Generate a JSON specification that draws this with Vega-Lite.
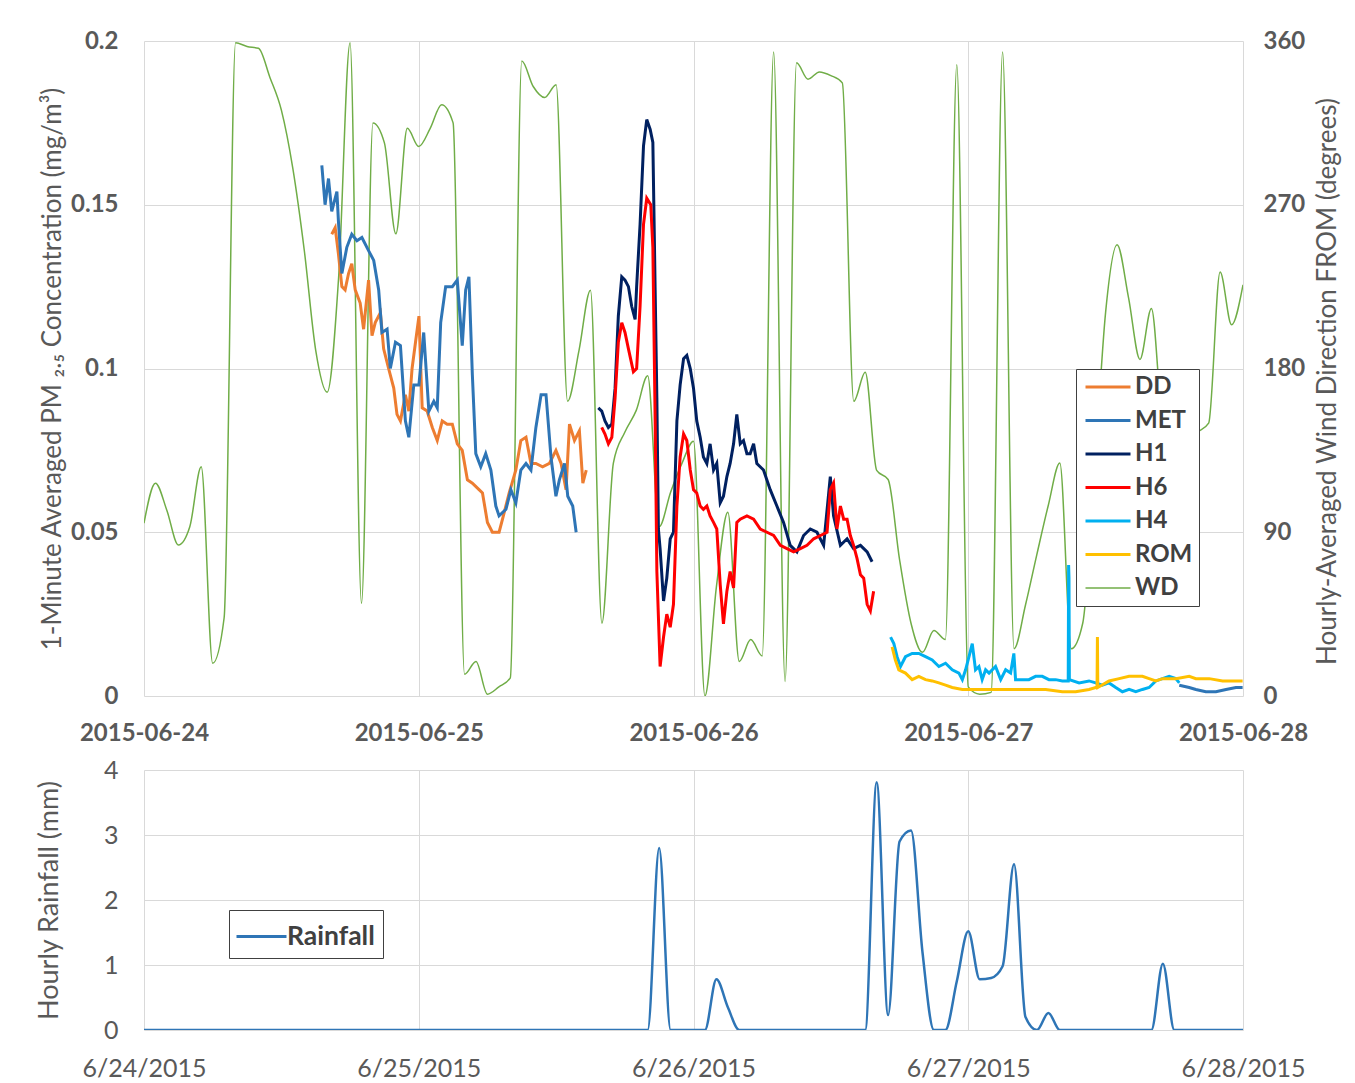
{
  "$schema": "https://vega.github.io/schema/vega-lite/v6.json",
  "background": "white",
  "padding": {"left": 35, "top": 29, "right": 5, "bottom": 5},
  "config": {"view": {"stroke": null}, "font": "Lato"},
  "spacing": 13,
  "resolve": {"scale": {"color": "independent"}, "legend": {"color": "independent"}},
  "datasets": {
    "wd": [
      {"s":"WD","t":"2015-06-24T00:00","d":95},{"s":"WD","t":"2015-06-24T01:00","d":117},{"s":"WD","t":"2015-06-24T02:00","d":102},{"s":"WD","t":"2015-06-24T03:00","d":83},
      {"s":"WD","t":"2015-06-24T04:00","d":93},{"s":"WD","t":"2015-06-24T05:00","d":126},{"s":"WD","t":"2015-06-24T06:00","d":18},{"s":"WD","t":"2015-06-24T07:00","d":43},
      {"s":"WD","t":"2015-06-24T08:00","d":359},{"s":"WD","t":"2015-06-24T09:00","d":357},{"s":"WD","t":"2015-06-24T10:00","d":356},{"s":"WD","t":"2015-06-24T11:00","d":340},
      {"s":"WD","t":"2015-06-24T12:00","d":322},{"s":"WD","t":"2015-06-24T13:00","d":290},{"s":"WD","t":"2015-06-24T14:00","d":245},{"s":"WD","t":"2015-06-24T15:00","d":190},
      {"s":"WD","t":"2015-06-24T16:00","d":167},{"s":"WD","t":"2015-06-24T17:00","d":230},{"s":"WD","t":"2015-06-24T18:00","d":359},{"s":"WD","t":"2015-06-24T19:00","d":51},
      {"s":"WD","t":"2015-06-24T20:00","d":315},{"s":"WD","t":"2015-06-24T21:00","d":304},{"s":"WD","t":"2015-06-24T22:00","d":254},{"s":"WD","t":"2015-06-24T23:00","d":312},
      {"s":"WD","t":"2015-06-25T00:00","d":302},{"s":"WD","t":"2015-06-25T01:00","d":312},{"s":"WD","t":"2015-06-25T02:00","d":325},{"s":"WD","t":"2015-06-25T03:00","d":315},
      {"s":"WD","t":"2015-06-25T04:00","d":12},{"s":"WD","t":"2015-06-25T05:00","d":19},{"s":"WD","t":"2015-06-25T06:00","d":1},{"s":"WD","t":"2015-06-25T07:00","d":5},
      {"s":"WD","t":"2015-06-25T08:00","d":10},{"s":"WD","t":"2015-06-25T09:00","d":349},{"s":"WD","t":"2015-06-25T10:00","d":335},{"s":"WD","t":"2015-06-25T11:00","d":329},
      {"s":"WD","t":"2015-06-25T12:00","d":336},{"s":"WD","t":"2015-06-25T13:00","d":162},{"s":"WD","t":"2015-06-25T14:00","d":190},{"s":"WD","t":"2015-06-25T15:00","d":223},
      {"s":"WD","t":"2015-06-25T16:00","d":40},{"s":"WD","t":"2015-06-25T17:00","d":128},{"s":"WD","t":"2015-06-25T18:00","d":145},{"s":"WD","t":"2015-06-25T19:00","d":157},
      {"s":"WD","t":"2015-06-25T20:00","d":176},{"s":"WD","t":"2015-06-25T21:00","d":93},{"s":"WD","t":"2015-06-25T22:00","d":112},{"s":"WD","t":"2015-06-25T23:00","d":128},
      {"s":"WD","t":"2015-06-26T00:00","d":140},{"s":"WD","t":"2015-06-26T01:00","d":0},{"s":"WD","t":"2015-06-26T02:00","d":60},{"s":"WD","t":"2015-06-26T03:00","d":101},
      {"s":"WD","t":"2015-06-26T04:00","d":19},{"s":"WD","t":"2015-06-26T05:00","d":31},{"s":"WD","t":"2015-06-26T06:00","d":22},{"s":"WD","t":"2015-06-26T07:00","d":354},
      {"s":"WD","t":"2015-06-26T08:00","d":8},{"s":"WD","t":"2015-06-26T09:00","d":348},{"s":"WD","t":"2015-06-26T10:00","d":339},{"s":"WD","t":"2015-06-26T11:00","d":343},
      {"s":"WD","t":"2015-06-26T12:00","d":341},{"s":"WD","t":"2015-06-26T13:00","d":337},{"s":"WD","t":"2015-06-26T14:00","d":162},{"s":"WD","t":"2015-06-26T15:00","d":178},
      {"s":"WD","t":"2015-06-26T16:00","d":124},{"s":"WD","t":"2015-06-26T17:00","d":119},{"s":"WD","t":"2015-06-26T18:00","d":75},{"s":"WD","t":"2015-06-26T19:00","d":40},
      {"s":"WD","t":"2015-06-26T20:00","d":24},{"s":"WD","t":"2015-06-26T21:00","d":36},{"s":"WD","t":"2015-06-26T22:00","d":31},{"s":"WD","t":"2015-06-26T23:00","d":347},
      {"s":"WD","t":"2015-06-27T00:00","d":5},{"s":"WD","t":"2015-06-27T01:00","d":1},{"s":"WD","t":"2015-06-27T02:00","d":2},{"s":"WD","t":"2015-06-27T03:00","d":354},
      {"s":"WD","t":"2015-06-27T04:00","d":26},{"s":"WD","t":"2015-06-27T05:00","d":50},{"s":"WD","t":"2015-06-27T06:00","d":78},{"s":"WD","t":"2015-06-27T07:00","d":105},
      {"s":"WD","t":"2015-06-27T08:00","d":128},{"s":"WD","t":"2015-06-27T09:00","d":26},{"s":"WD","t":"2015-06-27T10:00","d":40},{"s":"WD","t":"2015-06-27T11:00","d":120},
      {"s":"WD","t":"2015-06-27T12:00","d":211},{"s":"WD","t":"2015-06-27T13:00","d":248},{"s":"WD","t":"2015-06-27T14:00","d":219},{"s":"WD","t":"2015-06-27T15:00","d":185},
      {"s":"WD","t":"2015-06-27T16:00","d":213},{"s":"WD","t":"2015-06-27T17:00","d":150},{"s":"WD","t":"2015-06-27T18:00","d":140},{"s":"WD","t":"2015-06-27T19:00","d":140},
      {"s":"WD","t":"2015-06-27T20:00","d":145},{"s":"WD","t":"2015-06-27T21:00","d":150},{"s":"WD","t":"2015-06-27T22:00","d":233},{"s":"WD","t":"2015-06-27T23:00","d":204},
      {"s":"WD","t":"2015-06-28T00:00","d":226}
    ],
    "pm": [
      {"s":"DD","t":"2015-06-24T16:24","v":0.141},{"s":"DD","t":"2015-06-24T16:42","v":0.143},{"s":"DD","t":"2015-06-24T16:59","v":0.135},{"s":"DD","t":"2015-06-24T17:17","v":0.125},
      {"s":"DD","t":"2015-06-24T17:34","v":0.124},{"s":"DD","t":"2015-06-24T17:52","v":0.129},{"s":"DD","t":"2015-06-24T18:09","v":0.132},{"s":"DD","t":"2015-06-24T18:27","v":0.124},
      {"s":"DD","t":"2015-06-24T18:53","v":0.120},{"s":"DD","t":"2015-06-24T19:11","v":0.112},{"s":"DD","t":"2015-06-24T19:37","v":0.127},{"s":"DD","t":"2015-06-24T19:55","v":0.110},
      {"s":"DD","t":"2015-06-24T20:12","v":0.114},{"s":"DD","t":"2015-06-24T20:39","v":0.117},{"s":"DD","t":"2015-06-24T20:56","v":0.106},{"s":"DD","t":"2015-06-24T21:22","v":0.100},
      {"s":"DD","t":"2015-06-24T21:49","v":0.094},{"s":"DD","t":"2015-06-24T22:06","v":0.086},{"s":"DD","t":"2015-06-24T22:24","v":0.084},{"s":"DD","t":"2015-06-24T22:50","v":0.092},
      {"s":"DD","t":"2015-06-24T23:08","v":0.087},{"s":"DD","t":"2015-06-24T23:25","v":0.100},{"s":"DD","t":"2015-06-24T23:43","v":0.108},{"s":"DD","t":"2015-06-25T00:01","v":0.116},
      {"s":"DD","t":"2015-06-25T00:18","v":0.088},{"s":"DD","t":"2015-06-25T00:44","v":0.087},{"s":"DD","t":"2015-06-25T01:11","v":0.082},{"s":"DD","t":"2015-06-25T01:37","v":0.078},
      {"s":"DD","t":"2015-06-25T02:03","v":0.084},{"s":"DD","t":"2015-06-25T02:29","v":0.083},{"s":"DD","t":"2015-06-25T02:56","v":0.083},{"s":"DD","t":"2015-06-25T03:22","v":0.077},
      {"s":"DD","t":"2015-06-25T03:48","v":0.075},{"s":"DD","t":"2015-06-25T04:15","v":0.066},{"s":"DD","t":"2015-06-25T04:41","v":0.065},{"s":"DD","t":"2015-06-25T05:16","v":0.063},
      {"s":"DD","t":"2015-06-25T05:34","v":0.062},{"s":"DD","t":"2015-06-25T06:00","v":0.053},{"s":"DD","t":"2015-06-25T06:26","v":0.050},{"s":"DD","t":"2015-06-25T07:01","v":0.050},
      {"s":"DD","t":"2015-06-25T07:19","v":0.054},{"s":"DD","t":"2015-06-25T07:54","v":0.062},{"s":"DD","t":"2015-06-25T08:29","v":0.069},{"s":"DD","t":"2015-06-25T08:55","v":0.078},
      {"s":"DD","t":"2015-06-25T09:22","v":0.079},{"s":"DD","t":"2015-06-25T09:48","v":0.071},{"s":"DD","t":"2015-06-25T10:14","v":0.071},{"s":"DD","t":"2015-06-25T10:49","v":0.070},
      {"s":"DD","t":"2015-06-25T11:25","v":0.071},{"s":"DD","t":"2015-06-25T11:59","v":0.075},{"s":"DD","t":"2015-06-25T12:26","v":0.071},{"s":"DD","t":"2015-06-25T12:52","v":0.063},
      {"s":"DD","t":"2015-06-25T13:10","v":0.083},{"s":"DD","t":"2015-06-25T13:36","v":0.078},{"s":"DD","t":"2015-06-25T14:02","v":0.081},{"s":"DD","t":"2015-06-25T14:20","v":0.065},
      {"s":"DD","t":"2015-06-25T14:38","v":0.069},

      {"s":"MET","t":"2015-06-24T15:32","v":0.162},{"s":"MET","t":"2015-06-24T15:49","v":0.150},{"s":"MET","t":"2015-06-24T16:07","v":0.158},{"s":"MET","t":"2015-06-24T16:24","v":0.148},
      {"s":"MET","t":"2015-06-24T16:51","v":0.154},{"s":"MET","t":"2015-06-24T16:59","v":0.145},{"s":"MET","t":"2015-06-24T17:17","v":0.129},{"s":"MET","t":"2015-06-24T17:43","v":0.137},
      {"s":"MET","t":"2015-06-24T18:09","v":0.141},{"s":"MET","t":"2015-06-24T18:36","v":0.139},{"s":"MET","t":"2015-06-24T19:02","v":0.140},{"s":"MET","t":"2015-06-24T19:37","v":0.136},
      {"s":"MET","t":"2015-06-24T20:04","v":0.133},{"s":"MET","t":"2015-06-24T20:30","v":0.124},{"s":"MET","t":"2015-06-24T20:47","v":0.111},{"s":"MET","t":"2015-06-24T21:14","v":0.112},
      {"s":"MET","t":"2015-06-24T21:31","v":0.100},{"s":"MET","t":"2015-06-24T21:58","v":0.108},{"s":"MET","t":"2015-06-24T22:24","v":0.107},{"s":"MET","t":"2015-06-24T22:50","v":0.084},
      {"s":"MET","t":"2015-06-24T23:08","v":0.079},{"s":"MET","t":"2015-06-24T23:34","v":0.095},{"s":"MET","t":"2015-06-25T00:01","v":0.095},{"s":"MET","t":"2015-06-25T00:26","v":0.111},
      {"s":"MET","t":"2015-06-25T00:53","v":0.087},{"s":"MET","t":"2015-06-25T01:19","v":0.090},{"s":"MET","t":"2015-06-25T01:37","v":0.088},{"s":"MET","t":"2015-06-25T01:55","v":0.114},
      {"s":"MET","t":"2015-06-25T02:21","v":0.125},{"s":"MET","t":"2015-06-25T02:56","v":0.125},{"s":"MET","t":"2015-06-25T03:22","v":0.127},{"s":"MET","t":"2015-06-25T03:48","v":0.107},
      {"s":"MET","t":"2015-06-25T04:06","v":0.124},{"s":"MET","t":"2015-06-25T04:23","v":0.128},{"s":"MET","t":"2015-06-25T04:41","v":0.098},{"s":"MET","t":"2015-06-25T04:59","v":0.074},
      {"s":"MET","t":"2015-06-25T05:25","v":0.070},{"s":"MET","t":"2015-06-25T05:51","v":0.074},{"s":"MET","t":"2015-06-25T06:18","v":0.069},{"s":"MET","t":"2015-06-25T06:44","v":0.058},
      {"s":"MET","t":"2015-06-25T07:01","v":0.055},{"s":"MET","t":"2015-06-25T07:37","v":0.057},{"s":"MET","t":"2015-06-25T08:03","v":0.063},{"s":"MET","t":"2015-06-25T08:29","v":0.059},
      {"s":"MET","t":"2015-06-25T08:55","v":0.069},{"s":"MET","t":"2015-06-25T09:22","v":0.071},{"s":"MET","t":"2015-06-25T09:48","v":0.069},{"s":"MET","t":"2015-06-25T10:14","v":0.082},
      {"s":"MET","t":"2015-06-25T10:41","v":0.092},{"s":"MET","t":"2015-06-25T11:07","v":0.092},{"s":"MET","t":"2015-06-25T11:33","v":0.073},{"s":"MET","t":"2015-06-25T11:59","v":0.061},
      {"s":"MET","t":"2015-06-25T12:17","v":0.066},{"s":"MET","t":"2015-06-25T12:44","v":0.071},{"s":"MET","t":"2015-06-25T13:01","v":0.061},{"s":"MET","t":"2015-06-25T13:27","v":0.058},
      {"s":"MET","t":"2015-06-25T13:45","v":0.050},
      {"s":"MET","g":2,"t":"2015-06-27T18:26","v":0.0033},{"s":"MET","g":2,"t":"2015-06-27T19:18","v":0.0026},{"s":"MET","g":2,"t":"2015-06-27T19:53","v":0.002},{"s":"MET","g":2,"t":"2015-06-27T20:45","v":0.0013},
      {"s":"MET","g":2,"t":"2015-06-27T21:38","v":0.0013},{"s":"MET","g":2,"t":"2015-06-27T22:31","v":0.002},{"s":"MET","g":2,"t":"2015-06-27T23:23","v":0.0026},{"s":"MET","g":2,"t":"2015-06-27T23:58","v":0.0026},

      {"s":"H1","t":"2015-06-25T15:41","v":0.088},{"s":"H1","t":"2015-06-25T15:59","v":0.087},{"s":"H1","t":"2015-06-25T16:16","v":0.084},{"s":"H1","t":"2015-06-25T16:34","v":0.082},
      {"s":"H1","t":"2015-06-25T16:52","v":0.083},{"s":"H1","t":"2015-06-25T17:09","v":0.094},{"s":"H1","t":"2015-06-25T17:26","v":0.116},{"s":"H1","t":"2015-06-25T17:44","v":0.128},
      {"s":"H1","t":"2015-06-25T18:01","v":0.127},{"s":"H1","t":"2015-06-25T18:19","v":0.125},{"s":"H1","t":"2015-06-25T18:36","v":0.119},{"s":"H1","t":"2015-06-25T18:54","v":0.115},
      {"s":"H1","t":"2015-06-25T19:02","v":0.125},{"s":"H1","t":"2015-06-25T19:20","v":0.144},{"s":"H1","t":"2015-06-25T19:38","v":0.168},{"s":"H1","t":"2015-06-25T19:55","v":0.176},
      {"s":"H1","t":"2015-06-25T20:13","v":0.173},{"s":"H1","t":"2015-06-25T20:27","v":0.169},{"s":"H1","t":"2015-06-25T20:39","v":0.124},{"s":"H1","t":"2015-06-25T20:48","v":0.091},
      {"s":"H1","t":"2015-06-25T20:56","v":0.051},{"s":"H1","t":"2015-06-25T21:05","v":0.045},{"s":"H1","t":"2015-06-25T21:23","v":0.029},{"s":"H1","t":"2015-06-25T21:40","v":0.036},
      {"s":"H1","t":"2015-06-25T21:58","v":0.048},{"s":"H1","t":"2015-06-25T22:15","v":0.050},{"s":"H1","t":"2015-06-25T22:33","v":0.084},{"s":"H1","t":"2015-06-25T22:50","v":0.095},
      {"s":"H1","t":"2015-06-25T23:08","v":0.103},{"s":"H1","t":"2015-06-25T23:25","v":0.104},{"s":"H1","t":"2015-06-25T23:43","v":0.100},{"s":"H1","t":"2015-06-26T00:00","v":0.094},
      {"s":"H1","t":"2015-06-26T00:17","v":0.084},{"s":"H1","t":"2015-06-26T00:35","v":0.079},{"s":"H1","t":"2015-06-26T00:52","v":0.073},{"s":"H1","t":"2015-06-26T01:10","v":0.071},
      {"s":"H1","t":"2015-06-26T01:27","v":0.077},{"s":"H1","t":"2015-06-26T01:45","v":0.069},{"s":"H1","t":"2015-06-26T02:02","v":0.071},{"s":"H1","t":"2015-06-26T02:20","v":0.059},
      {"s":"H1","t":"2015-06-26T02:37","v":0.061},{"s":"H1","t":"2015-06-26T02:55","v":0.067},{"s":"H1","t":"2015-06-26T03:12","v":0.071},{"s":"H1","t":"2015-06-26T03:30","v":0.077},
      {"s":"H1","t":"2015-06-26T03:47","v":0.086},{"s":"H1","t":"2015-06-26T04:05","v":0.077},{"s":"H1","t":"2015-06-26T04:22","v":0.078},{"s":"H1","t":"2015-06-26T04:40","v":0.074},
      {"s":"H1","t":"2015-06-26T04:57","v":0.074},{"s":"H1","t":"2015-06-26T05:15","v":0.077},{"s":"H1","t":"2015-06-26T05:32","v":0.071},{"s":"H1","t":"2015-06-26T06:07","v":0.069},
      {"s":"H1","t":"2015-06-26T06:42","v":0.063},{"s":"H1","t":"2015-06-26T07:17","v":0.058},{"s":"H1","t":"2015-06-26T07:52","v":0.053},{"s":"H1","t":"2015-06-26T08:27","v":0.046},
      {"s":"H1","t":"2015-06-26T09:02","v":0.044},{"s":"H1","t":"2015-06-26T09:37","v":0.049},{"s":"H1","t":"2015-06-26T10:12","v":0.051},{"s":"H1","t":"2015-06-26T10:47","v":0.050},
      {"s":"H1","t":"2015-06-26T11:22","v":0.046},{"s":"H1","t":"2015-06-26T11:57","v":0.067},{"s":"H1","t":"2015-06-26T12:14","v":0.055},{"s":"H1","t":"2015-06-26T12:50","v":0.046},
      {"s":"H1","t":"2015-06-26T13:25","v":0.048},{"s":"H1","t":"2015-06-26T13:59","v":0.045},{"s":"H1","t":"2015-06-26T14:35","v":0.046},{"s":"H1","t":"2015-06-26T15:10","v":0.044},
      {"s":"H1","t":"2015-06-26T15:36","v":0.041},

      {"s":"H6","t":"2015-06-25T15:59","v":0.082},{"s":"H6","t":"2015-06-25T16:16","v":0.080},{"s":"H6","t":"2015-06-25T16:34","v":0.077},{"s":"H6","t":"2015-06-25T16:52","v":0.079},
      {"s":"H6","t":"2015-06-25T17:09","v":0.091},{"s":"H6","t":"2015-06-25T17:26","v":0.108},{"s":"H6","t":"2015-06-25T17:44","v":0.114},{"s":"H6","t":"2015-06-25T18:01","v":0.111},
      {"s":"H6","t":"2015-06-25T18:19","v":0.106},{"s":"H6","t":"2015-06-25T18:45","v":0.099},{"s":"H6","t":"2015-06-25T19:02","v":0.100},{"s":"H6","t":"2015-06-25T19:20","v":0.119},
      {"s":"H6","t":"2015-06-25T19:38","v":0.144},{"s":"H6","t":"2015-06-25T19:55","v":0.152},{"s":"H6","t":"2015-06-25T20:16","v":0.150},{"s":"H6","t":"2015-06-25T20:27","v":0.137},
      {"s":"H6","t":"2015-06-25T20:39","v":0.084},{"s":"H6","t":"2015-06-25T20:48","v":0.038},{"s":"H6","t":"2015-06-25T21:05","v":0.009},{"s":"H6","t":"2015-06-25T21:23","v":0.018},
      {"s":"H6","t":"2015-06-25T21:40","v":0.025},{"s":"H6","t":"2015-06-25T21:58","v":0.021},{"s":"H6","t":"2015-06-25T22:15","v":0.028},{"s":"H6","t":"2015-06-25T22:33","v":0.058},
      {"s":"H6","t":"2015-06-25T22:50","v":0.073},{"s":"H6","t":"2015-06-25T23:08","v":0.080},{"s":"H6","t":"2015-06-25T23:25","v":0.078},{"s":"H6","t":"2015-06-25T23:43","v":0.069},
      {"s":"H6","t":"2015-06-26T00:00","v":0.063},{"s":"H6","t":"2015-06-26T00:17","v":0.062},{"s":"H6","t":"2015-06-26T00:35","v":0.058},{"s":"H6","t":"2015-06-26T00:52","v":0.057},
      {"s":"H6","t":"2015-06-26T01:10","v":0.058},{"s":"H6","t":"2015-06-26T01:27","v":0.055},{"s":"H6","t":"2015-06-26T01:45","v":0.053},{"s":"H6","t":"2015-06-26T02:02","v":0.051},
      {"s":"H6","t":"2015-06-26T02:20","v":0.034},{"s":"H6","t":"2015-06-26T02:37","v":0.022},{"s":"H6","t":"2015-06-26T02:55","v":0.032},{"s":"H6","t":"2015-06-26T03:12","v":0.038},
      {"s":"H6","t":"2015-06-26T03:30","v":0.033},{"s":"H6","t":"2015-06-26T03:47","v":0.053},{"s":"H6","t":"2015-06-26T04:05","v":0.054},{"s":"H6","t":"2015-06-26T04:40","v":0.055},
      {"s":"H6","t":"2015-06-26T05:15","v":0.054},{"s":"H6","t":"2015-06-26T05:50","v":0.051},{"s":"H6","t":"2015-06-26T06:25","v":0.050},{"s":"H6","t":"2015-06-26T07:00","v":0.049},
      {"s":"H6","t":"2015-06-26T07:35","v":0.046},{"s":"H6","t":"2015-06-26T08:10","v":0.045},{"s":"H6","t":"2015-06-26T08:45","v":0.044},{"s":"H6","t":"2015-06-26T09:20","v":0.045},
      {"s":"H6","t":"2015-06-26T09:55","v":0.046},{"s":"H6","t":"2015-06-26T10:30","v":0.048},{"s":"H6","t":"2015-06-26T11:05","v":0.049},{"s":"H6","t":"2015-06-26T11:40","v":0.050},
      {"s":"H6","t":"2015-06-26T11:57","v":0.063},{"s":"H6","t":"2015-06-26T12:14","v":0.065},{"s":"H6","t":"2015-06-26T12:32","v":0.051},{"s":"H6","t":"2015-06-26T12:50","v":0.058},
      {"s":"H6","t":"2015-06-26T13:07","v":0.054},{"s":"H6","t":"2015-06-26T13:25","v":0.054},{"s":"H6","t":"2015-06-26T13:42","v":0.049},{"s":"H6","t":"2015-06-26T13:59","v":0.046},
      {"s":"H6","t":"2015-06-26T14:17","v":0.042},{"s":"H6","t":"2015-06-26T14:35","v":0.037},{"s":"H6","t":"2015-06-26T14:52","v":0.036},{"s":"H6","t":"2015-06-26T15:10","v":0.028},
      {"s":"H6","t":"2015-06-26T15:27","v":0.026},{"s":"H6","t":"2015-06-26T15:44","v":0.032},

      {"s":"H4","t":"2015-06-26T17:13","v":0.018},{"s":"H4","t":"2015-06-26T17:30","v":0.016},{"s":"H4","t":"2015-06-26T17:47","v":0.012},{"s":"H4","t":"2015-06-26T18:05","v":0.009},
      {"s":"H4","t":"2015-06-26T18:31","v":0.012},{"s":"H4","t":"2015-06-26T19:06","v":0.013},{"s":"H4","t":"2015-06-26T19:41","v":0.013},{"s":"H4","t":"2015-06-26T20:16","v":0.012},
      {"s":"H4","t":"2015-06-26T20:51","v":0.011},{"s":"H4","t":"2015-06-26T21:26","v":0.009},{"s":"H4","t":"2015-06-26T22:01","v":0.010},{"s":"H4","t":"2015-06-26T22:36","v":0.008},
      {"s":"H4","t":"2015-06-26T23:11","v":0.007},{"s":"H4","t":"2015-06-26T23:29","v":0.005},{"s":"H4","t":"2015-06-26T23:46","v":0.008},{"s":"H4","t":"2015-06-27T00:04","v":0.012},
      {"s":"H4","t":"2015-06-27T00:21","v":0.016},{"s":"H4","t":"2015-06-27T00:38","v":0.008},{"s":"H4","t":"2015-06-27T00:56","v":0.009},{"s":"H4","t":"2015-06-27T01:13","v":0.005},
      {"s":"H4","t":"2015-06-27T01:31","v":0.008},{"s":"H4","t":"2015-06-27T01:49","v":0.007},{"s":"H4","t":"2015-06-27T02:23","v":0.009},{"s":"H4","t":"2015-06-27T02:50","v":0.005},
      {"s":"H4","t":"2015-06-27T03:16","v":0.008},{"s":"H4","t":"2015-06-27T03:42","v":0.007},{"s":"H4","t":"2015-06-27T03:59","v":0.013},{"s":"H4","t":"2015-06-27T04:08","v":0.005},
      {"s":"H4","t":"2015-06-27T04:43","v":0.005},{"s":"H4","t":"2015-06-27T05:18","v":0.005},{"s":"H4","t":"2015-06-27T05:53","v":0.006},{"s":"H4","t":"2015-06-27T06:28","v":0.006},
      {"s":"H4","t":"2015-06-27T07:03","v":0.005},{"s":"H4","t":"2015-06-27T07:38","v":0.005},{"s":"H4","t":"2015-06-27T08:13","v":0.0046},{"s":"H4","t":"2015-06-27T08:44","v":0.0046},
      {"s":"H4","t":"2015-06-27T08:46","v":0.040},{"s":"H4","t":"2015-06-27T08:48","v":0.036},{"s":"H4","t":"2015-06-27T08:50","v":0.005},{"s":"H4","t":"2015-06-27T09:41","v":0.004},
      {"s":"H4","t":"2015-06-27T10:33","v":0.0046},{"s":"H4","t":"2015-06-27T11:08","v":0.004},{"s":"H4","t":"2015-06-27T11:43","v":0.0033},{"s":"H4","t":"2015-06-27T12:18","v":0.004},
      {"s":"H4","t":"2015-06-27T12:53","v":0.0026},{"s":"H4","t":"2015-06-27T13:28","v":0.0013},{"s":"H4","t":"2015-06-27T14:03","v":0.002},{"s":"H4","t":"2015-06-27T14:38","v":0.0013},
      {"s":"H4","t":"2015-06-27T15:13","v":0.002},{"s":"H4","t":"2015-06-27T15:48","v":0.0026},{"s":"H4","t":"2015-06-27T16:23","v":0.0046},{"s":"H4","t":"2015-06-27T16:58","v":0.0053},
      {"s":"H4","t":"2015-06-27T17:33","v":0.006},{"s":"H4","t":"2015-06-27T18:08","v":0.0053},{"s":"H4","t":"2015-06-27T18:26","v":0.004},

      {"s":"ROM","t":"2015-06-26T17:21","v":0.015},{"s":"ROM","t":"2015-06-26T17:38","v":0.011},{"s":"ROM","t":"2015-06-26T17:56","v":0.008},{"s":"ROM","t":"2015-06-26T18:31","v":0.007},
      {"s":"ROM","t":"2015-06-26T19:06","v":0.005},{"s":"ROM","t":"2015-06-26T19:41","v":0.006},{"s":"ROM","t":"2015-06-26T20:16","v":0.005},{"s":"ROM","t":"2015-06-26T20:51","v":0.0046},
      {"s":"ROM","t":"2015-06-26T21:26","v":0.004},{"s":"ROM","t":"2015-06-26T22:01","v":0.0033},{"s":"ROM","t":"2015-06-26T22:36","v":0.0026},{"s":"ROM","t":"2015-06-26T23:29","v":0.002},
      {"s":"ROM","t":"2015-06-27T00:21","v":0.002},{"s":"ROM","t":"2015-06-27T01:13","v":0.002},{"s":"ROM","t":"2015-06-27T02:23","v":0.002},{"s":"ROM","t":"2015-06-27T03:51","v":0.002},
      {"s":"ROM","t":"2015-06-27T05:18","v":0.002},{"s":"ROM","t":"2015-06-27T06:46","v":0.002},{"s":"ROM","t":"2015-06-27T08:13","v":0.0013},{"s":"ROM","t":"2015-06-27T09:23","v":0.0013},
      {"s":"ROM","t":"2015-06-27T10:33","v":0.002},{"s":"ROM","t":"2015-06-27T11:08","v":0.0026},{"s":"ROM","t":"2015-06-27T11:15","v":0.0026},{"s":"ROM","t":"2015-06-27T11:17","v":0.018},
      {"s":"ROM","t":"2015-06-27T11:19","v":0.0026},{"s":"ROM","t":"2015-06-27T12:18","v":0.0046},{"s":"ROM","t":"2015-06-27T13:11","v":0.0053},{"s":"ROM","t":"2015-06-27T14:03","v":0.006},
      {"s":"ROM","t":"2015-06-27T15:13","v":0.006},{"s":"ROM","t":"2015-06-27T15:48","v":0.0053},{"s":"ROM","t":"2015-06-27T16:23","v":0.0046},{"s":"ROM","t":"2015-06-27T16:58","v":0.0053},
      {"s":"ROM","t":"2015-06-27T18:08","v":0.0053},{"s":"ROM","t":"2015-06-27T19:18","v":0.006},{"s":"ROM","t":"2015-06-27T19:53","v":0.0053},{"s":"ROM","t":"2015-06-27T21:03","v":0.0053},
      {"s":"ROM","t":"2015-06-27T22:13","v":0.0046},{"s":"ROM","t":"2015-06-27T23:23","v":0.0046},{"s":"ROM","t":"2015-06-27T23:58","v":0.0046}
    ],
    "rain": [
      {"t":"2015-06-24T00:00","r":0},{"t":"2015-06-24T01:00","r":0},{"t":"2015-06-24T02:00","r":0},{"t":"2015-06-24T03:00","r":0},{"t":"2015-06-24T04:00","r":0},{"t":"2015-06-24T05:00","r":0},
      {"t":"2015-06-24T06:00","r":0},{"t":"2015-06-24T07:00","r":0},{"t":"2015-06-24T08:00","r":0},{"t":"2015-06-24T09:00","r":0},{"t":"2015-06-24T10:00","r":0},{"t":"2015-06-24T11:00","r":0},
      {"t":"2015-06-24T12:00","r":0},{"t":"2015-06-24T13:00","r":0},{"t":"2015-06-24T14:00","r":0},{"t":"2015-06-24T15:00","r":0},{"t":"2015-06-24T16:00","r":0},{"t":"2015-06-24T17:00","r":0},
      {"t":"2015-06-24T18:00","r":0},{"t":"2015-06-24T19:00","r":0},{"t":"2015-06-24T20:00","r":0},{"t":"2015-06-24T21:00","r":0},{"t":"2015-06-24T22:00","r":0},{"t":"2015-06-24T23:00","r":0},
      {"t":"2015-06-25T00:00","r":0},{"t":"2015-06-25T01:00","r":0},{"t":"2015-06-25T02:00","r":0},{"t":"2015-06-25T03:00","r":0},{"t":"2015-06-25T04:00","r":0},{"t":"2015-06-25T05:00","r":0},
      {"t":"2015-06-25T06:00","r":0},{"t":"2015-06-25T07:00","r":0},{"t":"2015-06-25T08:00","r":0},{"t":"2015-06-25T09:00","r":0},{"t":"2015-06-25T10:00","r":0},{"t":"2015-06-25T11:00","r":0},
      {"t":"2015-06-25T12:00","r":0},{"t":"2015-06-25T13:00","r":0},{"t":"2015-06-25T14:00","r":0},{"t":"2015-06-25T15:00","r":0},{"t":"2015-06-25T16:00","r":0},{"t":"2015-06-25T17:00","r":0},
      {"t":"2015-06-25T18:00","r":0},{"t":"2015-06-25T19:00","r":0},{"t":"2015-06-25T20:00","r":0},{"t":"2015-06-25T21:00","r":2.8},{"t":"2015-06-25T22:00","r":0},{"t":"2015-06-25T23:00","r":0},
      {"t":"2015-06-26T00:00","r":0},{"t":"2015-06-26T01:00","r":0},{"t":"2015-06-26T02:00","r":0.78},{"t":"2015-06-26T03:00","r":0.35},{"t":"2015-06-26T04:00","r":0},{"t":"2015-06-26T05:00","r":0},
      {"t":"2015-06-26T06:00","r":0},{"t":"2015-06-26T07:00","r":0},{"t":"2015-06-26T08:00","r":0},{"t":"2015-06-26T09:00","r":0},{"t":"2015-06-26T10:00","r":0},{"t":"2015-06-26T11:00","r":0},
      {"t":"2015-06-26T12:00","r":0},{"t":"2015-06-26T13:00","r":0},{"t":"2015-06-26T14:00","r":0},{"t":"2015-06-26T15:00","r":0},{"t":"2015-06-26T16:00","r":3.81},{"t":"2015-06-26T17:00","r":0.23},
      {"t":"2015-06-26T18:00","r":2.9},{"t":"2015-06-26T19:00","r":3.07},{"t":"2015-06-26T20:00","r":1.2},{"t":"2015-06-26T21:00","r":0},{"t":"2015-06-26T22:00","r":0},{"t":"2015-06-26T23:00","r":0.75},
      {"t":"2015-06-27T00:00","r":1.52},{"t":"2015-06-27T01:00","r":0.78},{"t":"2015-06-27T02:00","r":0.8},{"t":"2015-06-27T03:00","r":0.98},{"t":"2015-06-27T04:00","r":2.55},{"t":"2015-06-27T05:00","r":0.2},
      {"t":"2015-06-27T06:00","r":0},{"t":"2015-06-27T07:00","r":0.26},{"t":"2015-06-27T08:00","r":0},{"t":"2015-06-27T09:00","r":0},{"t":"2015-06-27T10:00","r":0},{"t":"2015-06-27T11:00","r":0},
      {"t":"2015-06-27T12:00","r":0},{"t":"2015-06-27T13:00","r":0},{"t":"2015-06-27T14:00","r":0},{"t":"2015-06-27T15:00","r":0},{"t":"2015-06-27T16:00","r":0},{"t":"2015-06-27T17:00","r":1.02},
      {"t":"2015-06-27T18:00","r":0},{"t":"2015-06-27T19:00","r":0},{"t":"2015-06-27T20:00","r":0},{"t":"2015-06-27T21:00","r":0},{"t":"2015-06-27T22:00","r":0},{"t":"2015-06-27T23:00","r":0},
      {"t":"2015-06-28T00:00","r":0}
    ]
  },
  "vconcat": [
    {
      "width": 1099,
      "height": 655,
      "layer": [
        {
          "data": {"name": "wd"},
          "mark": {"type": "line", "strokeWidth": 1.5, "interpolate": "monotone", "clip": true},
          "encoding": {
            "x": {"field": "t", "type": "temporal",
              "scale": {"domain": [{"year": 2015, "month": 6, "date": 24}, {"year": 2015, "month": 6, "date": 28}]},
              "axis": {"title": null, "values": [{"year": 2015, "month": 6, "date": 24}, {"year": 2015, "month": 6, "date": 25}, {"year": 2015, "month": 6, "date": 26}, {"year": 2015, "month": 6, "date": 27}, {"year": 2015, "month": 6, "date": 28}],
                "format": "%Y-%m-%d", "labelFontSize": 24, "labelFontWeight": "bold", "labelColor": "#595959", "labelPadding": 25, "labelOverlap": false, "labelFlush": false, "labelBound": false,
                "ticks": false, "domain": false, "grid": true, "gridColor": "#D9D9D9"}},
            "y": {"field": "d", "type": "quantitative", "scale": {"domain": [0, 360]},
              "axis": {"orient": "right", "values": [0, 90, 180, 270, 360], "grid": false, "ticks": false, "domain": false,
                "labelFontSize": 24, "labelFontWeight": "bold", "labelColor": "#595959", "labelPadding": 20,
                "title": "Hourly-Averaged Wind Direction FROM  (degrees)", "titleAngle": 270, "titleFontSize": 26, "titleFontWeight": "normal", "titleColor": "#595959", "titlePadding": 36, "titleY": 340}},
            "color": {"field": "s", "type": "nominal",
              "scale": {"domain": ["DD", "MET", "H1", "H6", "H4", "ROM", "WD"], "range": ["#ED7D31", "#2E75B6", "#002060", "#FF0000", "#00B0F0", "#FFC000", "#70AD47"]},
              "legend": {"orient": "none", "legendX": 932, "legendY": 328, "title": null, "symbolType": "M-1.5,0H1.5", "symbolSize": 900, "symbolStrokeWidth": 3,
                "labelFontSize": 24, "labelFontWeight": "bold", "labelColor": "#404040", "labelOffset": 15, "rowPadding": 9.5, "padding": 6, "symbolOffset": 14,
                "strokeColor": "#404040", "fillColor": "white",
                "encode": {"symbols": {"update": {"strokeWidth": {"signal": "datum.value === 'WD' ? 1.5 : 3"}}}}}}
          }
        },
        {
          "data": {"name": "pm"},
          "mark": {"type": "line", "strokeWidth": 3, "clip": true},
          "encoding": {
            "x": {"field": "t", "type": "temporal"},
            "y": {"field": "v", "type": "quantitative", "scale": {"domain": [0, 0.2]},
              "axis": {"orient": "left", "values": [0, 0.05, 0.1, 0.15, 0.2], "format": "~g", "grid": true, "gridColor": "#D9D9D9", "ticks": false, "domain": false,
                "labelFontSize": 24, "labelFontWeight": "bold", "labelColor": "#595959", "labelPadding": 26,
                "title": "1-Minute Averaged PM ₂.₅ Concentration (mg/m³)", "titleFontSize": 26, "titleFontWeight": "normal", "titleColor": "#595959", "titlePadding": 5}},
            "color": {"field": "s", "type": "nominal"},
            "detail": {"field": "g", "type": "nominal"}
          }
        }
      ],
      "resolve": {"scale": {"y": "independent"}}
    },
    {
      "width": 1099,
      "height": 260,
      "data": {"name": "rain"},
      "mark": {"type": "line", "strokeWidth": 2.5, "interpolate": "monotone", "clip": true},
      "encoding": {
        "x": {"field": "t", "type": "temporal",
          "scale": {"domain": [{"year": 2015, "month": 6, "date": 24}, {"year": 2015, "month": 6, "date": 28}]},
          "axis": {"title": null, "values": [{"year": 2015, "month": 6, "date": 24}, {"year": 2015, "month": 6, "date": 25}, {"year": 2015, "month": 6, "date": 26}, {"year": 2015, "month": 6, "date": 27}, {"year": 2015, "month": 6, "date": 28}],
            "format": "%-m/%-d/%Y", "labelFontSize": 25, "labelColor": "#595959", "labelPadding": 26, "labelOverlap": false, "labelFlush": false, "labelBound": false,
            "ticks": false, "domain": false, "grid": true, "gridColor": "#D9D9D9"}},
        "y": {"field": "r", "type": "quantitative", "scale": {"domain": [0, 4]},
          "axis": {"values": [0, 1, 2, 3, 4], "grid": true, "gridColor": "#D9D9D9", "ticks": false, "domain": false,
            "labelFontSize": 25, "labelColor": "#595959", "labelPadding": 26,
            "title": "Hourly Rainfall (mm)", "titleFontSize": 27, "titleFontWeight": "normal", "titleColor": "#595959", "titlePadding": 40}},
        "color": {"datum": "Rainfall", "type": "nominal",
          "scale": {"range": ["#2E75B6"]},
          "legend": {"orient": "none", "legendX": 85, "legendY": 140, "title": null, "symbolType": "M-1.5,0H1.5", "symbolSize": 1111, "symbolStrokeWidth": 3,
            "labelFontSize": 26.5, "labelFontWeight": "bold", "labelColor": "#404040", "labelOffset": 7, "padding": 8, "symbolOffset": 6,
            "strokeColor": "#404040", "fillColor": "white"}}
      }
    }
  ]
}
